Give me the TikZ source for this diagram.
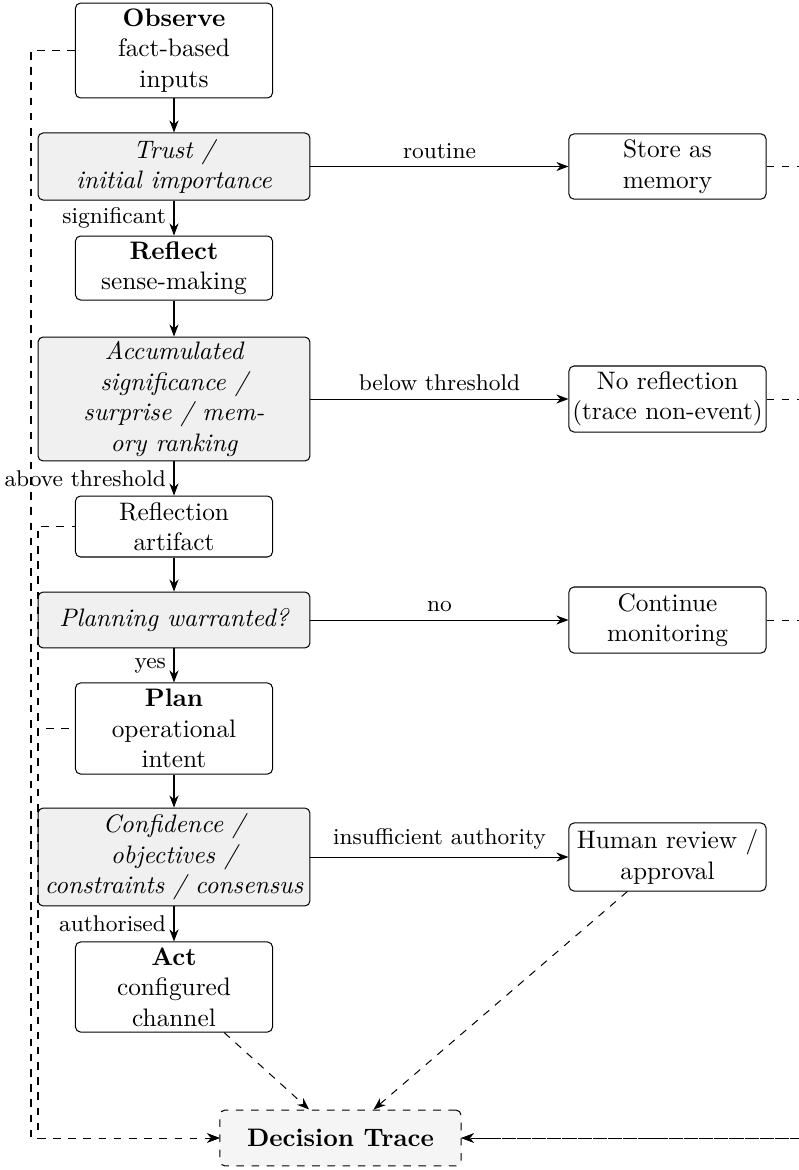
\documentclass[tikz,border=0pt]{standalone}
\usetikzlibrary{arrows.meta}
\begin{document}
\begin{tikzpicture}[x=0.3953pt,y=-0.3953pt,
  box/.style={draw, rounded corners=2pt, align=center, inner sep=1pt, line width=0.4pt},
  wbox/.style={box, minimum width=77.9pt},
  gbox/.style={box, fill=gray!12, minimum width=107.5pt, font=\itshape},
  lbl/.style={font=\small, inner sep=3pt},
  arr/.style={-{Stealth}},
  trace/.style={dashed, -{Stealth}}]
\useasboundingbox (0,0) rectangle (799,1170);
\begin{scope}
\clip (0,0) rectangle (799,1170);
\node[wbox, minimum height=37.5pt] (obs) at (174,50.5) {\textbf{Observe}\\fact-based\\inputs};
\node[gbox, minimum height=26.5pt] (trust) at (174,166.5) {Trust /\\initial importance};
\node[wbox, minimum height=25.8pt] (store) at (667.5,166.5) {Store as\\memory};
\node[wbox, minimum height=25.3pt] (refl) at (174,268) {\textbf{Reflect}\\sense-making};
\node[gbox, minimum height=49pt] (acc) at (174,399) {Accumulated\\significance /\\surprise / mem-\\ory ranking};
\node[wbox, minimum height=26.1pt] (norefl) at (667.5,399) {No reflection\\(trace non-event)};
\node[wbox, minimum height=24.1pt] (art) at (174,526.5) {Reflection\\artifact};
\node[gbox, minimum height=22.1pt] (pw) at (174,620) {Planning warranted?};
\node[wbox, minimum height=26.1pt] (cont) at (667.5,620) {Continue\\monitoring};
\node[wbox, minimum height=36pt] (plan) at (174,728.5) {\textbf{Plan}\\operational\\intent};
\node[gbox, minimum height=38.7pt] (conf) at (174,857) {Confidence /\\objectives /\\constraints / consensus};
\node[wbox, minimum height=26.9pt] (human) at (667.5,857) {Human review /\\approval};
\node[wbox, minimum height=35.6pt] (act) at (174,987) {\textbf{Act}\\configured\\channel};
\node[box, dashed, fill=gray!8, minimum width=95.3pt, minimum height=22.1pt, font=\bfseries] (dt) at (340.5,1138) {Decision Trace};

\coordinate (L1) at (31,0);
\coordinate (L2) at (38,0);
\coordinate (R) at (830,0);

\draw[arr] (obs) -- (trust);
\draw[arr] (trust) -- node[lbl, left]{significant} (refl);
\draw[arr] (trust) -- node[lbl, above]{routine} (store);
\draw[arr] (refl) -- (acc);
\draw[arr] (acc) -- node[lbl, above]{below threshold} (norefl);
\draw[arr] (acc) -- node[lbl, left]{above threshold} (art);
\draw[arr] (art) -- (pw);
\draw[arr] (pw) -- node[lbl, above]{no} (cont);
\draw[arr] (pw) -- node[lbl, left]{yes} (plan);
\draw[arr] (plan) -- (conf);
\draw[arr] (conf) -- node[lbl, above]{insufficient authority} (human);
\draw[arr] (conf) -- node[lbl, left]{authorised} (act);
\draw[trace] (act) -- (dt);
\draw[trace] (human) -- (dt);

\draw[trace] (obs.west) -| (L1 |- dt) -- (dt.west);
\draw[trace, dash phase=1.698pt] (art.west) -| (L2 |- dt) -- (dt.west);
\draw[trace, dash phase=3.546pt] (plan.west) -| (L2 |- dt) -- (dt.west);
\draw[trace] (store.east) -| (R |- dt) -- (dt.east);
\draw[trace] (norefl.east) -| (R |- dt) -- (dt.east);
\draw[trace] (cont.east) -| (R |- dt) -- (dt.east);
\end{scope}
\end{tikzpicture}
\end{document}
